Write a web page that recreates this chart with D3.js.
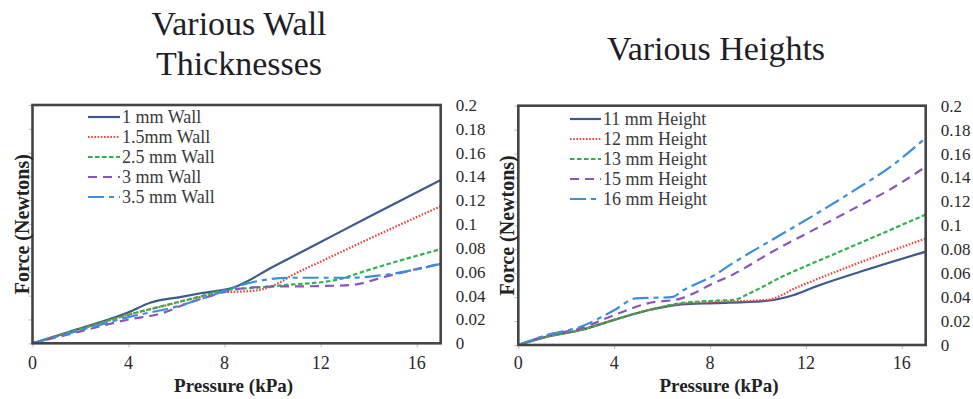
<!DOCTYPE html>
<html><head><meta charset="utf-8">
<script src="https://cdn.jsdelivr.net/npm/d3@7"></script>
<style>body{margin:0;background:#fff}svg{display:block}</style>
</head><body>
<svg id="c" width="973" height="399"></svg>
<script>
// ---- data ----
const xTicks = [0, 4, 8, 12, 16];
const yTicks = [0, 0.02, 0.04, 0.06, 0.08, 0.1, 0.12, 0.14, 0.16, 0.18, 0.2];
const yTickLabels = ["0", "0.02", "0.04", "0.06", "0.08", "0.1", "0.12", "0.14", "0.16", "0.18", "0.2"];

const wallNames = ["1 mm Wall", "1.5mm Wall", "2.5 mm Wall", "3 mm Wall", "3.5 mm Wall"];
const wall1X  = [0, 2, 4, 4.9, 6.2, 7, 8.4, 10, 12, 14, 17];
const wall1Y  = [0, 0.0125, 0.026, 0.034, 0.039, 0.042, 0.047, 0.064, 0.085, 0.106, 0.137];
const wall15X = [0, 2, 4, 5.4, 6.8, 8, 8.8, 9.5, 10.2, 10.8, 12, 14, 17];
const wall15Y = [0, 0.012, 0.024, 0.031, 0.038, 0.043, 0.0435, 0.045, 0.050, 0.057, 0.0685, 0.0875, 0.115];
const wall25X = [0, 2, 4, 5.35, 6.74, 8.1, 9.2, 10.6, 12.6, 14, 15.4, 17];
const wall25Y = [0, 0.012, 0.024, 0.031, 0.038, 0.0448, 0.0465, 0.049, 0.053, 0.0616, 0.070, 0.079];
const wall3X  = [0, 2, 4, 5.35, 6.46, 7.3, 8.4, 9.9, 11.9, 13.3, 14.7, 17];
const wall3Y  = [0, 0.010, 0.020, 0.025, 0.0336, 0.039, 0.045, 0.0476, 0.048, 0.049, 0.056, 0.067];
const wall35X = [0, 2, 4, 6.04, 7.43, 8.5, 9.6, 10.7, 13.2, 14.5, 17];
const wall35Y = [0, 0.011, 0.022, 0.031, 0.040, 0.0476, 0.053, 0.055, 0.055, 0.057, 0.0666];

const heightNames = ["11 mm Height", "12 mm Height", "13 mm Height", "15 mm Height", "16 mm Height"];
const h11X = [0, 1.2, 2.6, 4, 5.4, 6.8, 8.2, 10.4, 11.5, 12.4, 14.5, 17];
const h11Y = [0, 0.007, 0.0125, 0.021, 0.029, 0.034, 0.035, 0.037, 0.0418, 0.0488, 0.0627, 0.078];
const h12X = [0, 1.2, 2.6, 4, 5.4, 6.8, 8.2, 10.4, 11.7, 13.8, 17];
const h12Y = [0, 0.007, 0.0125, 0.021, 0.029, 0.0345, 0.036, 0.0378, 0.0488, 0.0655, 0.089];
const h13X = [0, 1.2, 2.6, 4, 5.4, 6.8, 8.2, 9, 9.65, 11, 13.1, 15.2, 17];
const h13Y = [0, 0.007, 0.0125, 0.021, 0.029, 0.035, 0.037, 0.0378, 0.0432, 0.057, 0.0753, 0.0934, 0.109];
const h15X = [0, 1.2, 2.6, 4, 5.4, 6.8, 8.15, 9, 10.6, 12.3, 14, 15.6, 17];
const h15Y = [0, 0.008, 0.014, 0.025, 0.0348, 0.039, 0.0516, 0.0594, 0.078, 0.096, 0.114, 0.131, 0.149];
const h16X = [0, 1.2, 2.6, 4, 4.9, 6.4, 6.9, 8.15, 9, 10.6, 12.3, 14, 15.6, 17];
const h16Y = [0, 0.0084, 0.0153, 0.029, 0.039, 0.040, 0.046, 0.058, 0.069, 0.088, 0.108, 0.129, 0.150, 0.173];

// ---- styles ----
const colors = ["#3d5a8c", "#e8453c", "#2fb24c", "#8a55bb", "#3a8fd8"];
const dashes = [null, "1.6 1.6", "4.5 2.5", "9 6", "16 5 5 5"];
const FAM = '"Liberation Serif"';

const svg = d3.select("#c");

function txt(sel, size, weight) {
  return sel.style("font-family", FAM).style("font-size", size + "px")
    .style("font-weight", weight || "normal");
}

function panel(cfg) {
  const x = d3.scaleLinear().domain([0, 17]).range([cfg.l, cfg.r]);
  const y = d3.scaleLinear().domain([0, 0.2]).range([cfg.b, cfg.t]);
  const g = svg.append("g");

  // left tick marks (no labels)
  g.append("g").attr("transform", `translate(${cfg.l},0)`)
    .call(d3.axisLeft(y).tickValues(yTicks).tickSize(4).tickFormat(""))
    .call(a => a.select(".domain").remove())
    .call(a => a.selectAll("line").attr("stroke", "#bbb"));
  // bottom ticks
  g.append("g").attr("transform", `translate(0,${cfg.b})`)
    .call(d3.axisBottom(x).tickValues(xTicks).tickSize(4).tickFormat(""))
    .call(a => a.select(".domain").remove())
    .call(a => a.selectAll("line").attr("stroke", "#bbb"));

  // x tick labels
  txt(g.selectAll(".xl").data(xTicks).enter().append("text"), 18)
    .attr("x", d => x(d)).attr("y", 369)
    .attr("text-anchor", "middle").attr("fill", "#2a2a2a")
    .text(d => d);
  // right y labels
  txt(g.selectAll(".yl").data(yTicks).enter().append("text"), 17)
    .attr("x", cfg.r + 15).attr("y", d => y(d) + 6)
    .attr("fill", "#2a2a2a")
    .text((d, i) => yTickLabels[i]);

  // lines
  const line = d3.line().x(d => x(d[0])).y(d => y(d[1])).curve(d3.curveMonotoneX);
  cfg.series.forEach((s, i) => {
    const pts = s.x.map((v, j) => [v, s.y[j]]);
    g.append("path").attr("d", line(pts))
      .attr("fill", "none").attr("stroke", colors[i]).attr("stroke-width", 2.2)
      .attr("stroke-dasharray", dashes[i]);
  });

  // frame
  g.append("rect").attr("x", cfg.l).attr("y", cfg.t)
    .attr("width", cfg.r - cfg.l).attr("height", cfg.b - cfg.t)
    .attr("fill", "none").attr("stroke", "#444").attr("stroke-width", 2.6);

  // legend
  cfg.names.forEach((n, i) => {
    const yy = cfg.legY + i * 20;
    g.append("line").attr("x1", cfg.legX).attr("x2", cfg.legX + cfg.legW)
      .attr("y1", yy).attr("y2", yy)
      .attr("stroke", colors[i]).attr("stroke-width", 2.2).attr("stroke-dasharray", dashes[i]);
    txt(g.append("text"), 18).attr("x", cfg.legX + cfg.legW + 2).attr("y", yy + 6)
      .attr("fill", "#3a3a3a").text(n);
  });

  // axis titles
  txt(g.append("text"), 19, "bold").attr("x", (cfg.l + cfg.r) / 2 - 3).attr("y", 392)
    .attr("text-anchor", "middle").attr("fill", "#222")
    .text("Pressure (kPa)");
  txt(g.append("text"), 20, "bold")
    .attr("transform", `translate(${cfg.l - 4},${(cfg.t + cfg.b) / 2}) rotate(-90)`)
    .attr("text-anchor", "middle").attr("fill", "#222")
    .text("Force (Newtons)");

  // title
  cfg.title.forEach((t, i) => {
    txt(g.append("text"), 34).attr("x", cfg.titleX).attr("y", cfg.titleY + i * 40)
      .attr("text-anchor", "middle").attr("fill", "#1e1e28").text(t);
  });
}

panel({
  l: 32.5, r: 440.7, t: 105, b: 343.3,
  series: [
    {x: wall1X, y: wall1Y}, {x: wall15X, y: wall15Y}, {x: wall25X, y: wall25Y},
    {x: wall3X, y: wall3Y}, {x: wall35X, y: wall35Y}
  ],
  names: wallNames, legX: 88, legW: 32, legY: 117,
  title: ["Various Wall", "Thicknesses"], titleX: 239, titleY: 35
});
panel({
  l: 518.3, r: 925.7, t: 105.7, b: 345,
  series: [
    {x: h11X, y: h11Y}, {x: h12X, y: h12Y}, {x: h13X, y: h13Y},
    {x: h15X, y: h15Y}, {x: h16X, y: h16Y}
  ],
  names: heightNames, legX: 570, legW: 31, legY: 119,
  title: ["Various Heights"], titleX: 716, titleY: 60
});
</script>
</body></html>
